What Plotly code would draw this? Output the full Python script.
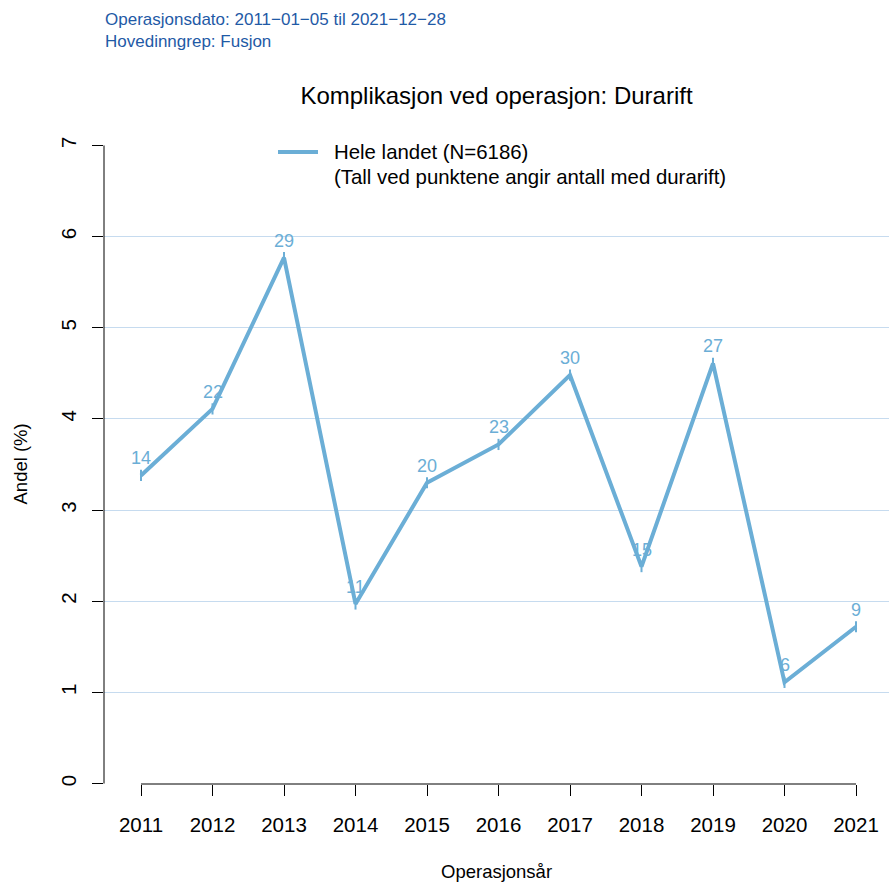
import plotly.graph_objects as go

years = [2011, 2012, 2013, 2014, 2015, 2016, 2017, 2018, 2019, 2020, 2021]
andel = [3.38, 4.11, 5.77, 1.97, 3.30, 3.72, 4.48, 2.38, 4.61, 1.11, 1.72]
antall = [14, 22, 29, 11, 20, 23, 30, 15, 27, 6, 9]
y_ticks = [0, 1, 2, 3, 4, 5, 6, 7]

LINE = "#6baed6"
GRID = "#c6dbef"
FONT = "Liberation Sans, Arial, Helvetica, sans-serif"

W, H = 785, 639  # plot area size in px
L, T = 104, 145


def px(xp):
    return (xp - L) / W


def py(yp):
    return (T + H - yp) / H


fig = go.Figure()
fig.add_trace(go.Scatter(
    x=years, y=andel, mode="lines+markers",
    line=dict(color=LINE, width=4),
    marker=dict(symbol="line-ns", size=8, line=dict(color=LINE, width=2)),
    showlegend=False, hoverinfo="skip",
))

for x, y, n in zip(years, andel, antall):
    fig.add_annotation(x=x, y=y, text=str(n), showarrow=False, yshift=17,
                       font=dict(color=LINE, size=18, family=FONT))

# axis lines (R style, only over data range)
fig.add_shape(type="line", xref="paper", yref="y", x0=0, x1=0, y0=min(y_ticks), y1=max(y_ticks),
              line=dict(color="#000000", width=1))
fig.add_shape(type="line", xref="x", yref="paper", x0=years[0], x1=years[-1], y0=0, y1=0,
              line=dict(color="#000000", width=1))

# manual legend
fig.add_shape(type="line", xref="paper", yref="paper", x0=px(278), x1=px(318),
              y0=py(152), y1=py(152), line=dict(color=LINE, width=4))
fig.add_annotation(xref="paper", yref="paper", x=px(332), y=py(152),
                   text="Hele landet (N=6186)", showarrow=False, xanchor="left", yanchor="middle",
                   font=dict(size=20.4, color="#000000", family=FONT))
fig.add_annotation(xref="paper", yref="paper", x=px(332), y=py(177),
                   text="(Tall ved punktene angir antall med durarift)", showarrow=False,
                   xanchor="left", yanchor="middle",
                   font=dict(size=20.4, color="#000000", family=FONT))

# header texts
fig.add_annotation(xref="paper", yref="paper", x=px(103), y=py(19),
                   text="Operasjonsdato: 2011\u221201\u221205 til 2021\u221212\u221228",
                   showarrow=False, xanchor="left", yanchor="middle",
                   font=dict(size=17, color="#1f5aa6", family=FONT))
fig.add_annotation(xref="paper", yref="paper", x=px(103), y=py(41),
                   text="Hovedinngrep: Fusjon",
                   showarrow=False, xanchor="left", yanchor="middle",
                   font=dict(size=17, color="#1f5aa6", family=FONT))

# axis titles
fig.add_annotation(xref="paper", yref="paper", x=px(496.5), y=py(871),
                   text="Operasjonsår", showarrow=False, xanchor="center", yanchor="middle",
                   font=dict(size=18.5, color="#000000", family=FONT))
fig.add_annotation(xref="paper", yref="paper", x=px(20), y=py(464.5),
                   text="Andel (%)", showarrow=False, xanchor="center", yanchor="middle",
                   textangle=-90, font=dict(size=18.5, color="#000000", family=FONT))

fig.update_layout(
    width=889, height=884,
    margin=dict(l=L, r=889 - L - W, t=T, b=884 - T - H),
    paper_bgcolor="white", plot_bgcolor="white",
    font=dict(family=FONT, size=16, color="#000000"),
    title=dict(text="Komplikasjon ved operasjon: Durarift", x=(L + W / 2) / 889, xanchor="center",
               y=1 - 96 / 884, yanchor="middle", font=dict(size=24, family=FONT, color="#000000")),
    xaxis=dict(range=[2010.4825, 2021.4615], tickvals=years, ticktext=[str(y) for y in years],
               showgrid=False, zeroline=False, showline=False,
               ticks="outside", ticklen=11, tickcolor="#000000",
               ticklabelstandoff=11,
               tickfont=dict(size=20.5, family=FONT), fixedrange=True),
    yaxis=dict(range=[-0.005, 7.005], tickvals=y_ticks, showgrid=True, gridcolor=GRID, gridwidth=1,
               zeroline=False, showline=False,
               ticks="outside", ticklen=11, tickcolor="#000000", tickangle=-90,
               ticklabelstandoff=8,
               tickfont=dict(size=20.5, family=FONT)),
)

fig.write_html("out.html", config={"displayModeBar": False},
               post_script="document.body.style.margin='0';document.body.style.overflow='hidden';")
